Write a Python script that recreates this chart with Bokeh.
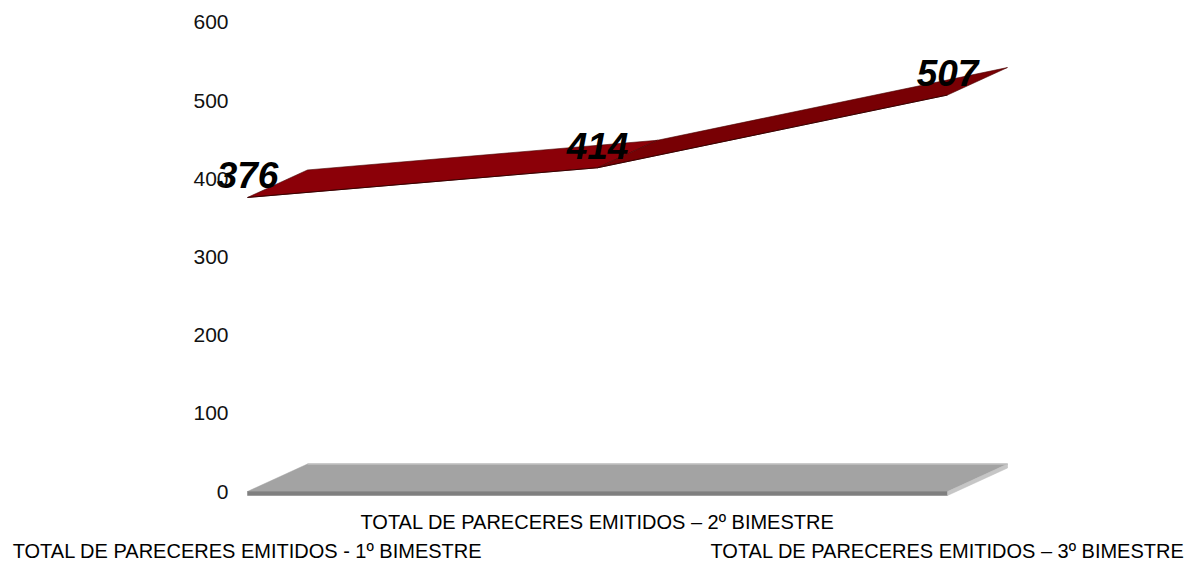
from bokeh.plotting import figure
from bokeh.models import Range1d
from bokeh.core.properties import value
from bokeh.embed import file_html
from bokeh.resources import INLINE

# ---- data ----
categories = [
    "TOTAL DE PARECERES EMITIDOS - 1º BIMESTRE",
    "TOTAL DE PARECERES EMITIDOS – 2º BIMESTRE",
    "TOTAL DE PARECERES EMITIDOS – 3º BIMESTRE",
]
values = [376, 414, 507]
y_ticks = [0, 100, 200, 300, 400, 500, 600]
y_tick_labels = [str(t) for t in y_ticks]

# ---- layout (pixels) ----
W, H = 1193, 561
PX_PER_CAT = 350.0
PX_PER_VAL = 0.782
ZERO_X_PX = 247.0   # category 0 position from figure left
ZERO_Y_PX = 491.0   # value 0 position from figure top
DEPTH_PX_X, DEPTH_PX_Y = 60.0, 27.5
FLOOR_PX = 4.0

x0 = -ZERO_X_PX / PX_PER_CAT
x1 = x0 + W / PX_PER_CAT
y1 = ZERO_Y_PX / PX_PER_VAL
y0 = y1 - H / PX_PER_VAL

DX = DEPTH_PX_X / PX_PER_CAT
DY = DEPTH_PX_Y / PX_PER_VAL
FT = FLOOR_PX / PX_PER_VAL

p = figure(width=W, height=H, x_range=Range1d(x0, x1), y_range=Range1d(y0, y1),
           output_backend="svg", toolbar_location=None, min_border=0,
           x_axis_type=None, y_axis_type=None)
p.grid.visible = False
p.outline_line_color = None
p.background_fill_color = "white"

n = len(values)
idx = list(range(n))
last = n - 1

# floor (3D base)
p.patch([0, last, last + DX, DX], [0, 0, DY, DY],
        fill_color="#A3A3A3", line_color="#A3A3A3", line_width=0.5)
p.line([DX, last + DX], [DY, DY], line_color="#C2C2C2", line_width=1.5)
p.patch([0, last, last, 0], [0, 0, -FT, -FT],
        fill_color="#7F7F7F", line_color="#7F7F7F", line_width=0.5)
p.patch([last, last + DX, last + DX, last], [0, DY, DY - FT, -FT],
        fill_color="#C6C6C6", line_color="#BDBDBD", line_width=0.5)

# 3D ribbon
seg_colors = ["#8B0008", "#780004"]
xs, ys, cols = [], [], []
for i in range(n - 1):
    xs.append([idx[i], idx[i + 1], idx[i + 1] + DX, idx[i] + DX])
    ys.append([values[i], values[i + 1], values[i + 1] + DY, values[i] + DY])
    cols.append(seg_colors[i % len(seg_colors)])
p.patches(xs, ys, fill_color=cols, line_color="#4A0000", line_width=0.6)
p.line(idx, values, line_color="#3A0000", line_width=1.0)

# data labels
p.text(x=idx, y=values, text=[str(v) for v in values],
       text_font=value("Liberation Sans"), text_font_style="bold italic",
       text_font_size="37px", text_color="black",
       text_align="center", text_baseline="alphabetic", y_offset=-22)

# y tick labels
p.text(x=[0] * len(y_ticks), y=y_ticks, text=y_tick_labels,
       text_font=value("Liberation Sans"), text_font_size="21px",
       text_color="#111111", text_align="right", text_baseline="middle",
       x_offset=-19)

# staggered category labels
offs = [59 if i % 2 == 0 else 30 for i in idx]
p.text(x=idx, y=[0] * n, text=categories,
       text_font=value("Liberation Sans"), text_font_size="20px",
       text_color="black", text_align="center", text_baseline="middle",
       y_offset=offs)

open("out.html", "w").write(file_html(p, INLINE))
